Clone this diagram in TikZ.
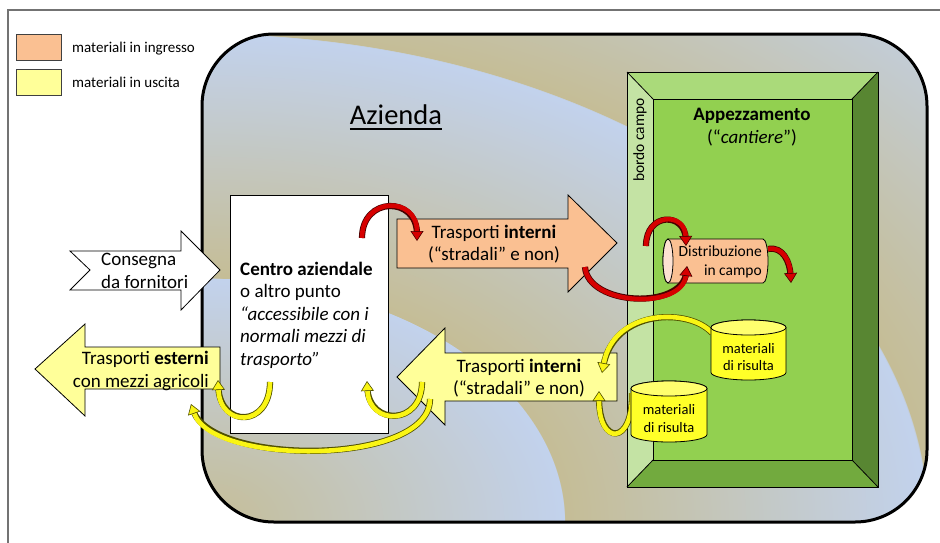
\documentclass[tikz,border=0pt]{standalone}
\usepackage{fontspec}
\setmainfont{Carlito}
\usetikzlibrary{arrows.meta}
\definecolor{bluec}{RGB}{194,210,237}
\definecolor{tanc}{RGB}{197,189,150}
\definecolor{orangec}{RGB}{250,192,146}
\definecolor{lyellow}{RGB}{255,255,153}
\definecolor{cylyellow}{RGB}{255,255,40}
\definecolor{cyltop}{RGB}{255,255,110}
\definecolor{distface}{RGB}{253,226,210}
\definecolor{gin}{RGB}{146,208,80}
\definecolor{gtop}{RGB}{170,218,122}
\definecolor{gleft}{RGB}{196,227,164}
\definecolor{gright}{RGB}{88,134,50}
\definecolor{gbot}{RGB}{114,170,62}
\definecolor{redc}{RGB}{214,0,0}
\definecolor{redl}{RGB}{70,0,0}
\definecolor{yelc}{RGB}{250,245,20}
\definecolor{yell}{RGB}{80,80,0}
\pgfdeclareradialshading{rings}{\pgfpoint{0bp}{0bp}}{color(0bp)=(tanc); color(8.333bp)=(bluec); color(8.343bp)=(tanc); color(16.667bp)=(bluec); color(16.677bp)=(tanc); color(25bp)=(bluec); color(50bp)=(bluec)}
\tikzset{
  txt/.style={font=\fontsize{19}{22.5}\selectfont, inner sep=0pt, align=center},
  shp/.style={draw=black, line width=0.8pt},
  legbox/.style={draw=black!75, line width=0.9pt, minimum width=45pt, minimum height=26pt, inner sep=0pt},
  arcunder/.style={line width=6.2pt, draw=#1, shorten >=7pt},
  arcover/.style 2 args={line width=4.6pt, draw=#1, -{Triangle[length=10pt, width=13pt, color=#2, fill=#1, line width=0.6pt]}},
}
\newcommand\carc[4]{\draw[arcunder=#2] #3 #4; \draw[arcover={#1}{#2}] #3 #4;}
\begin{document}
\begin{tikzpicture}[x=1pt,y=-1pt]
\useasboundingbox (0,0) rectangle (940,542);
\fill[white] (0,0) rectangle (940,542);
\draw[black!55, line width=1.3pt] (8,546) -- (8,10) -- (946,10);

% legend
\node[legbox, fill=orangec] (lo) at (38.5,47) {};
\node[legbox, fill=lyellow] (ly) at (38.5,82.5) {};
\node[anchor=base west, inner sep=0pt, font=\fontsize{15}{18}\selectfont] (lt1) at (72,52) {materiali in ingresso};
\node[anchor=base west, inner sep=0pt, font=\fontsize{15}{18}\selectfont] (lt2) at (72,87) {materiali in uscita};

% Azienda area
\begin{scope}
\clip[rounded corners=72pt] (202,34) rectangle (927,522);
\shade[shading=rings] (202,522) ellipse [x radius=1087.5, y radius=732];
\end{scope}
\draw[line width=3pt, rounded corners=72pt] (202,34) rectangle (927,522);
\node[anchor=base, inner sep=0pt, font=\fontsize{28.5}{33}\selectfont] (azl) at (396,124) {Azienda};
\draw[line width=1.4pt] ([yshift=-5pt]azl.base west) -- ([yshift=-5pt]azl.base east);

% Appezzamento (bevel)
\fill[gtop] (627,72) -- (878,72) -- (852,99) -- (653,99) -- cycle;
\fill[gleft] (627,72) -- (653,99) -- (653,460) -- (627,487) -- cycle;
\fill[gright] (878,72) -- (878,487) -- (852,460) -- (852,99) -- cycle;
\fill[gbot] (627,487) -- (878,487) -- (852,460) -- (653,460) -- cycle;
\fill[gin] (653,99) rectangle (852,460);
\draw[shp] (627,72) rectangle (878,487);
\draw[shp] (653,99) rectangle (852,460);
\draw[shp] (627,72) -- (653,99) (878,72) -- (852,99) (878,487) -- (852,460) (627,487) -- (653,460);
\node[rotate=90, inner sep=0pt, font=\fontsize{15.5}{18}\selectfont] (bc) at (640,140) {bordo campo};
\node[txt] (ap) at (752,127) {\textbf{Appezzamento}\\(“\textit{cantiere}”)};

% Centro aziendale
\node[shp, fill=white, minimum width=158pt, minimum height=238pt, inner sep=0pt] (cbox) at (309,314) {};
\node[txt, align=left, anchor=west] (ct) at (240,315) {\textbf{Centro aziendale}\\o altro punto\\\textit{“accessibile con i}\\\textit{normali mezzi di}\\\textit{trasporto”}};

% Consegna da fornitori
\draw[shp, fill=white] (70,251) -- (181,251) -- (181,231) -- (220,270) -- (181,310) -- (181,290) -- (70,290) -- (90,270) -- cycle;
\node[txt, align=left, anchor=west] (cons) at (101,271) {Consegna\\da fornitori};

% Trasporti esterni
\draw[shp, fill=lyellow] (220,347) -- (85,347) -- (85,324) -- (35,369) -- (85,416) -- (85,389) -- (220,389) -- cycle;
\node[txt, align=right, anchor=east] (est) at (209,371) {Trasporti \textbf{esterni}\\con mezzi agricoli};

% Trasporti interni (orange)
\draw[shp, fill=orangec] (397,219) -- (568,219) -- (568,195) -- (617,243) -- (568,292) -- (568,268) -- (397,268) -- cycle;
\node[txt] (ti1) at (494,244) {Trasporti \textbf{interni}\\(“stradali” e non)};

% Trasporti interni (yellow)
\draw[shp, fill=lyellow] (617,353) -- (445,353) -- (445,328) -- (397,377) -- (445,425) -- (445,401) -- (617,401) -- cycle;
\node[txt] (ti2) at (519,378) {Trasporti \textbf{interni}\\(“stradali” e non)};

% Distribuzione cylinder
\draw[shp, fill=orangec] (668,239) -- (763,239) arc[start angle=-90, end angle=90, x radius=5, y radius=22] -- (668,283) arc[start angle=90, end angle=270, x radius=5, y radius=22] -- cycle;
\draw[shp, fill=distface] (668,261) ellipse [x radius=5, y radius=22];
\node[txt, align=right, anchor=east, font=\fontsize{15.5}{19.5}\selectfont] (dt) at (762,262) {Distribuzione\\in campo};

% yellow arcs from the materials (behind the cylinders)
\coordinate (y5s) at (712,333); \coordinate (y5e) at (602,373);
\carc{yelc}{yell}{(y5s)}{.. controls (690,308) and (614,308) .. (y5e)}
\coordinate (y6s) at (632,393); \coordinate (y6e) at (599,391);
\carc{yelc}{yell}{(y6s)}{.. controls (633,446) and (599,446) .. (y6e)}

% materiali di risulta cylinders
\draw[shp, fill=cylyellow] (711,327.5) -- (711,372.5) arc[start angle=180, end angle=0, x radius=37.5, y radius=7.5] -- (786,327.5) arc[start angle=0, end angle=-180, x radius=37.5, y radius=7.5] -- cycle;
\draw[shp, fill=cyltop] (748.5,327.5) ellipse [x radius=37.5, y radius=7.5];
\node[txt, font=\fontsize{14.5}{17.5}\selectfont] (m1) at (748.5,357) {materiali\\di risulta};
\draw[shp, fill=cylyellow] (631,388.5) -- (631,434.5) arc[start angle=180, end angle=0, x radius=38, y radius=7.5] -- (707,388.5) arc[start angle=0, end angle=-180, x radius=38, y radius=7.5] -- cycle;
\draw[shp, fill=cyltop] (669,388.5) ellipse [x radius=38, y radius=7.5];
\node[txt, font=\fontsize{14.5}{17.5}\selectfont] (m2) at (669,418.5) {materiali\\di risulta};

% red arcs
\coordinate (r1s) at (362,238); \coordinate (r1e) at (417,241);
\carc{redc}{redl}{(r1s)}{.. controls (362,196) and (417,196) .. (r1e)}
\coordinate (r2s) at (585,267); \coordinate (r2e) at (687,266);
\carc{redc}{redl}{(r2s)}{.. controls (588,306) and (682,310) .. (r2e)}
\coordinate (r3s) at (646,246); \coordinate (r3e) at (686,246);
\carc{redc}{redl}{(r3s)}{.. controls (646,212) and (685,212) .. (r3e)}
\coordinate (r4s) at (768,249); \coordinate (r4e) at (791,283);
\carc{redc}{redl}{(r4s)}{.. controls (783,246) and (790,262) .. (r4e)}

% yellow arcs near the centre
\coordinate (y7s) at (422,382); \coordinate (y7e) at (367,381);
\carc{yelc}{yell}{(y7s)}{.. controls (422,426) and (369,426) .. (y7e)}
\coordinate (y8s) at (430,399); \coordinate (y8e) at (191,404);
\carc{yelc}{yell}{(y8s)}{.. controls (430,466) and (212,466) .. (y8e)}
\coordinate (y9s) at (270,382); \coordinate (y9e) at (218,380);
\carc{yelc}{yell}{(y9s)}{.. controls (270,428) and (220,428) .. (y9e)}
\end{tikzpicture}
\end{document}
